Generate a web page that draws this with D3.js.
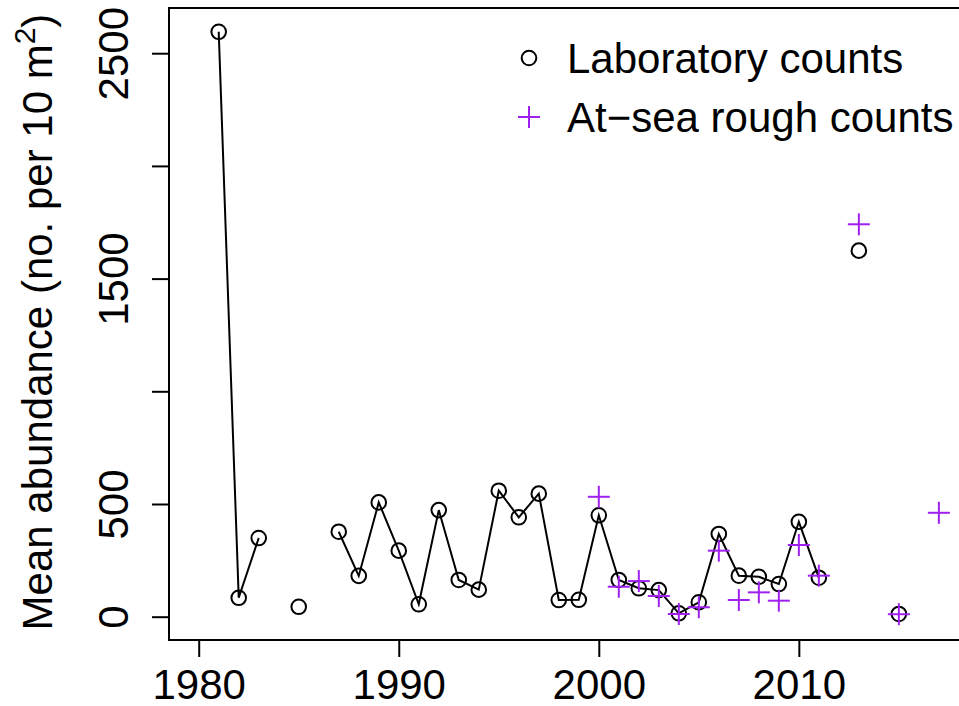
<!DOCTYPE html>
<html><head><meta charset="utf-8">
<script src="https://cdn.jsdelivr.net/npm/d3@7"></script>
<style>body{margin:0;background:#fff}svg{display:block}text{font-family:"Liberation Sans",Arial,sans-serif}</style>
</head><body>
<script>
const years = d3.range(1981, 2018);
const labYears = [1981,1982,1983,1985,1987,1988,1989,1990,1991,1992,1993,1994,1995,1996,1997,1998,1999,2000,2001,2002,2003,2004,2005,2006,2007,2008,2009,2010,2011,2013,2015];
const labValues = [2595,84,349,44,377,181,507,293,55,473,163,120,559,441,546,74,75,450,163,126,118,15,64,367,182,177,145,421,173,1624,12];
const seaYears = [2000,2001,2002,2003,2004,2005,2006,2007,2008,2009,2010,2011,2013,2015,2017];
const seaValues = [532,133,158,92,12,42,293,74,108,71,318,182,1741,11,461];
const xTicks = [1980,1990,2000,2010];
const yTicks = [0,500,1000,1500,2000,2500];
const yTickLabels = ["0","500","","1500","","2500"];
const legendLabels = ["Laboratory counts","At\u2212sea rough counts"];

const W = 959, H = 706;
const svg = d3.select("body").append("svg").attr("width", W).attr("height", H);
const x = d3.scaleLinear().domain([1978.515, 2045.5]).range([169, 1509]);
const y = d3.scaleLinear().domain([-103.4, 2700.6]).range([640, 8]);
const purple = "#A020F0";
const fs = 42;

// plot box
svg.append("rect").attr("x", 169).attr("y", 8).attr("width", 1340).attr("height", 632)
  .attr("fill", "none").attr("stroke", "#000").attr("stroke-width", 2);

// x axis
const xa = svg.append("g").attr("transform", "translate(0,640)")
  .call(d3.axisBottom(x).tickValues(xTicks).tickFormat(d3.format("d")).tickSize(17).tickSizeOuter(0));
xa.select(".domain").remove();
xa.selectAll(".tick line").attr("stroke", "#000").attr("stroke-width", 2);
xa.selectAll(".tick text").attr("font-size", fs).attr("fill", "#000").attr("dy", null).attr("y", 59)
  .attr("font-family", "Liberation Sans, Arial, sans-serif");

// y axis
const ya = svg.append("g").attr("transform", "translate(169,0)")
  .call(d3.axisLeft(y).tickValues(yTicks).tickFormat((d,i) => yTickLabels[i]).tickSize(17).tickSizeOuter(0));
ya.select(".domain").remove();
ya.selectAll(".tick line").attr("stroke", "#000").attr("stroke-width", 2);
ya.selectAll(".tick text").attr("font-size", fs).attr("fill", "#000")
  .attr("x", null).attr("dy", null).attr("text-anchor", "middle")
  .attr("font-family", "Liberation Sans, Arial, sans-serif")
  .attr("transform", "translate(-41,0) rotate(-90)");

// y title
const yt = svg.append("text").attr("transform", "translate(52,322) rotate(-90)")
  .attr("text-anchor", "middle").attr("font-size", fs).attr("fill", "#000");
yt.append("tspan").text("Mean abundance (no. per 10 m");
yt.append("tspan").text("2").attr("font-size", 30).attr("dy", -17);
yt.append("tspan").text(")").attr("dy", 17);

// data
const lab = labYears.map((yr, i) => ({yr, v: labValues[i]}));
const labByYear = new Map(lab.map(d => [d.yr, d.v]));
const labSeries = years.filter(yr => yr <= 2015).map(yr => ({yr, v: labByYear.has(yr) ? labByYear.get(yr) : null}));
const sea = seaYears.map((yr, i) => ({yr, v: seaValues[i]}));

const line = d3.line().defined(d => d.v !== null).x(d => x(d.yr)).y(d => y(d.v));
const r = 7.3;
svg.append("path").attr("d", line(labSeries)).attr("fill", "none").attr("stroke", "#000").attr("stroke-width", 2);

svg.append("g").selectAll("circle").data(lab).join("circle")
  .attr("cx", d => x(d.yr)).attr("cy", d => y(d.v)).attr("r", r)
  .attr("fill", "none").attr("stroke", "#000").attr("stroke-width", 2);

const ps = 11;
const plus = (g, cx, cy) => {
  g.append("line").attr("x1", cx-ps).attr("x2", cx+ps).attr("y1", cy).attr("y2", cy);
  g.append("line").attr("x1", cx).attr("x2", cx).attr("y1", cy-ps).attr("y2", cy+ps);
};
const pg = svg.append("g").attr("stroke", purple).attr("stroke-width", 2);
sea.forEach(d => plus(pg, x(d.yr), y(d.v)));

// legend
const lg = svg.append("g");
lg.append("circle").attr("cx", 529).attr("cy", 58).attr("r", r).attr("fill", "none").attr("stroke", "#000").attr("stroke-width", 2);
const lpg = lg.append("g").attr("stroke", purple).attr("stroke-width", 2);
plus(lpg, 529, 117);
lg.selectAll("text").data(legendLabels).join("text")
  .attr("x", 567).attr("y", (d,i) => 73 + i*58.5).attr("font-size", fs).attr("fill", "#000").text(d => d);
</script>
</body></html>
